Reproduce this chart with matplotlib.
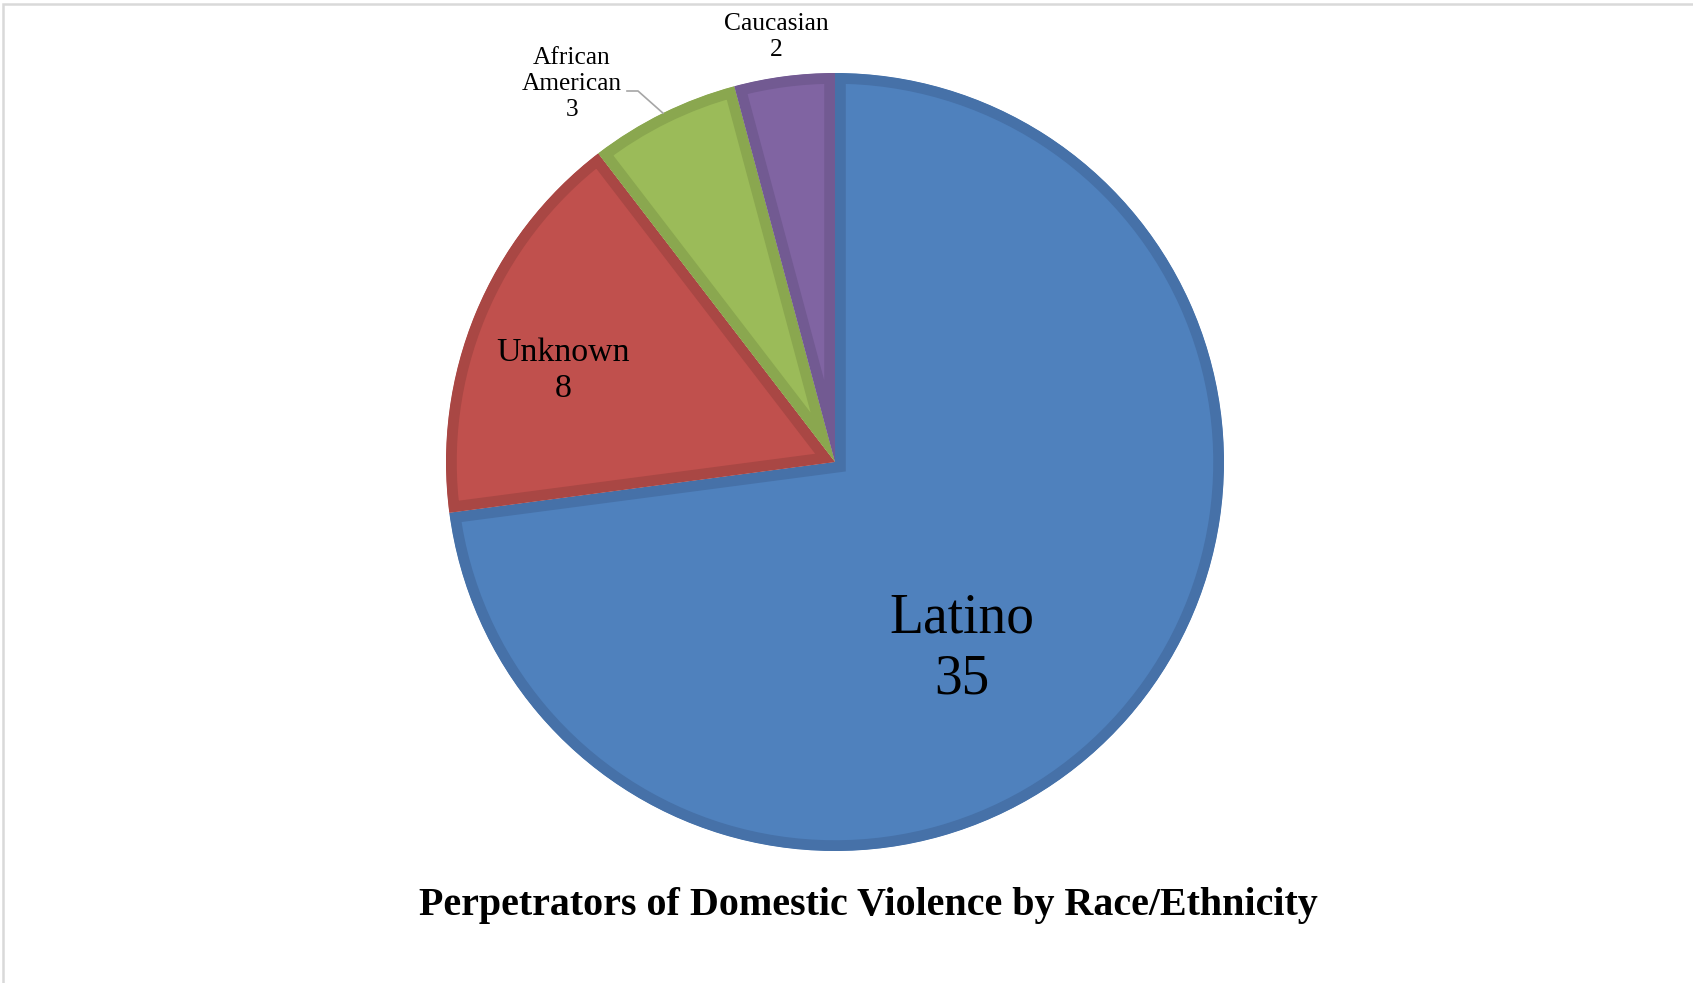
import matplotlib.pyplot as plt
import numpy as np
from matplotlib.patches import Rectangle

plt.rcParams['font.family'] = ['Liberation Serif', 'DejaVu Serif']

# data
races = ['Latino', 'Unknown', 'African\nAmerican', 'Caucasian']
counts = [35, 8, 3, 2]
fills = ['#4F81BD', '#C0504D', '#9BBB59', '#8064A2']
edges = ['#4671A8', '#A94744', '#8AA74F', '#725A92']

W, H = 1693, 983
fig = plt.figure(figsize=(W / 100, H / 100), dpi=100)
ax = fig.add_axes([0, 0, 1, 1])

cx, cy, R = 835, H - 462, 389
wedges, _ = ax.pie(counts, colors=fills, startangle=90, counterclock=False,
                   center=(cx, cy), radius=R, frame=True)
# darker border drawn only inside each slice
for w, ec in zip(wedges, edges):
    w.set_edgecolor(ec)
    w.set_linewidth(15.5)
    w.set_clip_path(w)
    w.set_clip_on(True)
ax.set_xlim(0, W)
ax.set_ylim(0, H)
ax.axis('off')

# labels
ax.text(962, H - 649, f'{races[0]}\n{counts[0]}', ha='center', va='center',
        fontsize=40, linespacing=1.22)
ax.text(563, H - 371, f'{races[1]}\n{counts[1]}', ha='center', va='center',
        fontsize=24.4, linespacing=1.25)
ax.text(572, H - 84, f'{races[2]}\n{counts[2]}', ha='center', va='center',
        fontsize=18.3, linespacing=1.25)
ax.text(776, H - 37, f'{races[3]}\n{counts[3]}', ha='center', va='center',
        fontsize=18.4, linespacing=1.25)

# leader line for African American
th = np.deg2rad((wedges[2].theta1 + wedges[2].theta2) / 2)
px, py = cx + R * np.cos(th), cy + R * np.sin(th)
ax.plot([627, 638, px], [H - 91, H - 91, py], color='#A6A6A6', lw=1.2)

fig.text(0.513, 1 - 905 / H, 'Perpetrators of Domestic Violence by Race/Ethnicity',
         ha='center', va='center', fontsize=28.8, fontweight='bold')

# chart frame (only top and left edges fall inside the image)
fig.patches.append(Rectangle((3 / W, -0.01), 1.02, 1.01 - 4 / H, transform=fig.transFigure,
                             fill=False, edgecolor='#D9D9D9', lw=1.8))

fig.savefig('out.png', dpi=100)
